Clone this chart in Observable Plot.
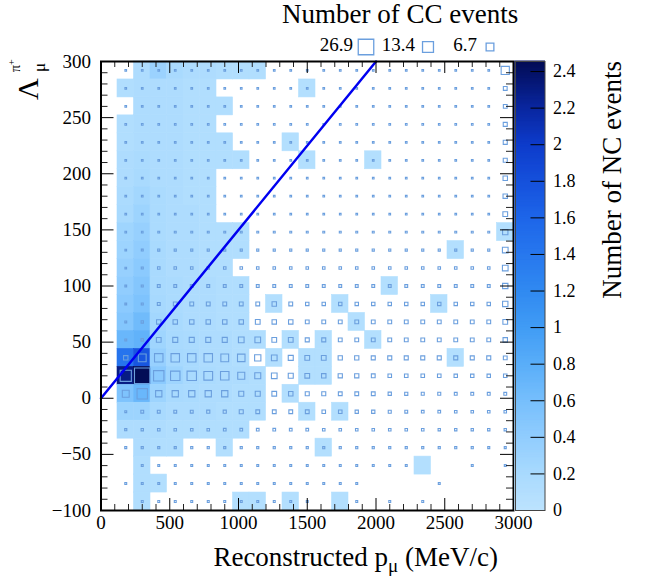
<!DOCTYPE html>
<html><head><meta charset="utf-8">
<script src="https://cdn.jsdelivr.net/npm/d3@7"></script>
<script src="https://cdn.jsdelivr.net/npm/@observablehq/plot@0.6"></script>
<style>
html,body{margin:0;padding:0;background:#fff;}
#wrap{position:relative;width:651px;height:583px;overflow:hidden;font-family:"Liberation Serif","Times New Roman",serif;}
#wrap svg{position:absolute;left:0;top:0;}
</style></head><body><div id="wrap"></div>
<script>
// ---- binning ----
const xBinWidth = 120, xStart = 0, nX = 25;
const yBinWidth = 16, yStart = -100, nY = 25;

// NC events per bin, rows from top (y 284..300) to bottom (y -100..-84), columns x 0..3000
const ncRows = [
  [0,0,.15,.32,.2,.15,.15,.12,.12,.12,0,0,0,0,0,0,0,0,0,0,0,0,0,0,0],
  [0,.12,.15,.15,.15,.12,.12,0,0,0,0,0,.1,0,0,0,0,0,0,0,0,0,0,0,0],
  [0,0,.15,.15,.15,.12,.12,.12,0,0,0,0,0,0,0,0,0,0,0,0,0,0,0,0,0],
  [0,.12,.15,.15,.15,.12,.12,0,0,0,0,0,0,0,0,0,0,0,0,0,0,0,0,0,0],
  [0,.12,.15,.15,.15,.12,.12,.12,0,0,0,.1,0,0,0,0,0,0,0,0,0,0,0,0,0],
  [0,.15,.18,.15,.15,.12,.12,.12,.12,0,0,0,.1,0,0,0,.1,0,0,0,0,0,0,0,0],
  [0,.15,.2,.15,.15,.12,.12,0,0,0,0,0,0,0,0,0,0,0,0,0,0,0,0,0,0],
  [0,.18,.25,.18,.15,.12,.12,0,0,0,0,0,0,0,0,0,0,0,0,0,0,0,0,0,0],
  [0,.2,.3,.18,.15,.15,.12,0,0,0,0,0,0,0,0,0,0,0,0,0,0,0,0,0,0],
  [0,.28,.35,.18,.15,.15,.12,.12,.12,0,0,0,0,0,0,0,0,0,0,0,0,0,0,0,.1],
  [0,.3,.4,.2,.15,.15,.12,.12,.12,0,0,0,0,0,0,0,0,0,0,0,0,.1,0,0,0],
  [0,.35,.45,.2,.15,.15,.12,.12,0,0,0,0,0,0,0,0,0,0,0,0,0,0,0,0,0],
  [0,.4,.5,.2,.18,.15,.15,.12,.12,0,0,0,0,0,0,0,0,.1,0,0,0,0,0,0,0],
  [0,.45,.55,.22,.18,.15,.15,.12,.12,0,.1,0,0,0,.1,0,0,0,0,0,.1,0,0,0,0],
  [0,.5,.65,.25,.2,.15,.15,.12,.12,0,0,0,0,0,0,.1,0,0,0,0,0,0,0,0,0],
  [0,.7,.75,.28,.2,.18,.15,.15,.12,.12,0,.1,0,.1,0,0,.1,0,0,0,0,0,0,0,0],
  [0,1.45,1.75,.35,.22,.2,.15,.15,.12,0,.1,0,.1,.1,0,0,0,0,0,0,0,.1,0,0,0],
  [0,2.3,2.45,.45,.28,.2,.18,.15,.15,.12,0,0,.1,.1,0,0,0,0,0,0,0,0,0,0,0],
  [0,.55,.7,.3,.2,.18,.15,.15,.12,.12,0,.1,0,0,0,0,0,0,0,0,0,0,0,0,0],
  [0,.3,.3,.2,.15,.15,.15,.12,.12,.12,0,0,.1,0,.1,0,0,0,0,0,0,0,0,0,0],
  [0,.15,.15,.15,.12,.12,.12,.12,.12,0,0,0,0,0,0,0,0,0,0,0,0,0,0,0,0],
  [0,0,.15,.12,.12,0,0,.1,0,0,0,0,0,.1,0,0,0,0,0,0,0,0,0,0,0],
  [0,0,.12,0,0,0,0,0,0,0,0,0,0,0,0,0,0,0,0,.1,0,0,0,0,0],
  [0,0,.12,.1,0,0,0,0,0,0,0,0,0,0,0,0,0,0,0,0,0,0,0,0,0],
  [0,0,.12,0,0,0,0,0,.1,.1,0,.1,0,0,.1,0,0,0,0,0,0,0,0,0,0]
];

// CC events per bin, same layout
const ccRows = [
  [0,.3,.3,.3,.3,.3,.3,.3,.3,.3,.3,.3,.3,.3,.3,.3,.3,.3,.3,.3,.3,.3,.3,.3,7.5],
  [0,.3,.3,.3,.3,.3,.3,.3,.3,.3,.3,.3,.3,.3,.3,.3,.3,.3,.3,.3,.3,.3,.3,.3,1.6],
  [0,.3,.3,.3,.3,.3,.3,.3,.3,.3,.3,.3,.3,.3,.3,.3,.3,.3,.3,.3,.3,.3,.3,.3,1.6],
  [0,.3,.3,.3,.3,.3,.3,.3,.3,.3,.3,.3,.3,.3,.3,.3,.3,.3,.3,.3,.3,.3,.3,.3,1.8],
  [0,.3,.3,.3,.3,.3,.3,.3,.3,.3,.3,.3,.3,.3,.3,.3,.3,.3,.3,.3,.3,.3,.3,.3,1.8],
  [0,.3,.3,.3,.3,.3,.3,.3,.3,.3,.3,.3,.3,.3,.3,.3,.3,.3,.3,.3,.3,.3,.3,.3,1.8],
  [0,.3,.3,.3,.3,.3,.3,.3,.3,.3,.3,.3,.3,.3,.3,.3,.3,.3,.3,.3,.3,.3,.3,.3,2.2],
  [0,.3,.3,.3,.3,.3,.3,.3,.3,.3,.3,.3,.3,.3,.3,.3,.3,.3,.3,.3,.3,.3,.3,.3,2.2],
  [0,.3,.3,.3,.3,.3,.3,.3,.3,.3,.3,.3,.3,.3,.3,.3,.3,.3,.3,.3,.3,.3,.3,.3,2.5],
  [0,.3,.3,.4,.4,.4,.4,.4,.4,.4,.4,.4,.4,.4,.4,.4,.4,.4,.4,.4,.4,.4,.4,.4,3.2],
  [0,.3,.4,.5,.5,.5,.5,.5,.5,.5,.5,.5,.5,.5,.5,.5,.5,.5,.5,.5,.5,.5,.5,.5,3.6],
  [0,.3,.45,.7,.7,.7,.7,.7,.7,.7,.7,.7,.7,.7,.7,.7,.7,.7,.7,.7,.7,.7,.7,.7,3.6],
  [0,.35,.45,.9,.9,.9,.9,.9,.9,.9,.9,.9,.9,.9,.9,.9,.9,.9,.9,.9,.9,.9,.9,.9,3.2],
  [0,.35,.45,.9,1.6,1.6,1.6,1.6,1.6,1.6,2.2,1.6,1.3,1.3,1.3,1.3,1.3,1.3,1.3,1.3,1.3,1.3,1.3,1.3,3.2],
  [0,.4,.6,2.2,2.2,2.2,2.2,2.2,2.2,2.5,2.2,2.2,1.6,1.6,1.6,1.6,1.6,1.6,1.6,1.6,1.6,1.6,1.6,1.6,2.5],
  [0,.4,.7,2.5,2.8,2.8,2.8,2.8,3.6,3.6,2.5,2.5,1.8,1.8,1.6,1.6,1.6,1.6,1.6,1.6,1.6,1.6,1.6,1.6,2.2],
  [0,2.2,6.8,8,8,8,8,6.8,6.3,4.4,3.6,2.8,2.5,2.5,2.0,2.0,1.8,1.8,1.8,1.8,1.8,1.8,1.8,1.8,1.6],
  [0,14,26.9,12,9.9,9.9,8.5,8,5.5,4.0,3.6,2.8,2.5,2.2,2.0,2.0,1.6,1.4,1.4,1.4,1.4,1.3,1.3,1.3,1.35],
  [0,5.3,12,4.4,4.4,4.4,4.4,4.4,2.8,2.8,2.5,2.2,1.8,1.8,1.6,1.6,1.6,1.2,1.1,1.0,1.0,.9,.9,.9,.9],
  [0,.4,.9,.9,.9,.9,1.1,1.1,1.8,1.6,1.6,1.6,1.6,1.4,1.4,1.2,1.2,1.0,.9,.8,.8,.7,.7,.7,.7],
  [0,.5,.6,.7,.7,.7,.7,.8,.8,.8,.8,.8,.8,.7,.7,.7,.7,.7,.7,.7,.6,.6,.6,.6,.6],
  [0,.45,.5,.5,.5,.5,.5,.5,.5,.5,.5,.5,.5,.5,.5,.5,.5,.5,.5,.5,.5,.5,.5,.45,.45],
  [0,0,.4,.4,.4,.4,.4,.4,.4,.4,.4,.4,.4,.4,.4,.4,.4,.4,.4,0,0,0,.4,0,.4],
  [0,.4,.4,.4,.4,.4,.4,.4,.4,.4,.4,.4,.4,.4,.4,.4,0,0,0,0,.4,0,0,0,0],
  [0,0,.4,.4,.4,.4,.4,.4,.4,.4,.4,.4,.4,0,0,.4,0,.4,0,.4,0,0,0,0,0]
];

const xTickLabels = [0, 500, 1000, 1500, 2000, 2500, 3000];
const yTickLabels = [-100, -50, 0, 50, 100, 150, 200, 250, 300];
const zTickLabels = [0, 0.2, 0.4, 0.6, 0.8, 1, 1.2, 1.4, 1.6, 1.8, 2, 2.2, 2.4];
const legendValues = [26.9, 13.4, 6.7];
const lineX = [0, 2000];
const lineY = [0, 300];

// palette stops
const paletteStops = [0, 0.2, 0.4, 0.6, 0.8, 1.0, 1.2, 1.4, 1.6, 1.8, 2.0, 2.2, 2.455];
const paletteColors = ["#bde3fe","#a9dafe","#91cdfe","#77bffc","#5aaef9","#419cf5","#318af1","#2878ee","#1e66e9","#1651dc","#0e3ccb","#0a27a0","#030c55"];
const zMax = 2.455;
const ccMax = 26.9;

// ---- build cells ----
const ncCells = [], ccCells = [];
ncRows.forEach((row, r) => {
  const j = nY - 1 - r;
  row.forEach((v, i) => {
    if (v > 0) ncCells.push({x1: xStart + i * xBinWidth, x2: xStart + (i + 1) * xBinWidth,
      y1: yStart + j * yBinWidth, y2: yStart + (j + 1) * yBinWidth, v});
  });
});
ccRows.forEach((row, r) => {
  const j = nY - 1 - r;
  row.forEach((v, i) => {
    if (v > 0) ccCells.push({x: xStart + (i + 0.5) * xBinWidth, y: yStart + (j + 0.5) * yBinWidth, v});
  });
});

const W = 651, H = 583;
const mTop = 61, mBottom = 73, mLeft = 100.5, mRight = 138;
const frameH = H - mTop - mBottom, frameW = W - mLeft - mRight;
const boxMaxSide = 15.5;
const rScale = {type: "sqrt", domain: [0, ccMax], range: [0, boxMaxSide / Math.sqrt(Math.PI)]};
const colorScale = {type: "linear", domain: paletteStops, range: paletteColors, clamp: true};
const fmt = d => d < 0 ? "\u2212" + Math.abs(d) : String(d);
const font = '"Liberation Serif","Times New Roman",serif';
const boxColor = "#6b9fde";

const xMinor = d3.range(0, 3001, 100).filter(d => d % 500 !== 0);
const yMinor = d3.range(-100, 301, 10).filter(d => d % 50 !== 0);

const main = Plot.plot({
  width: W, height: H,
  marginTop: mTop, marginBottom: mBottom, marginLeft: mLeft, marginRight: mRight,
  x: {domain: [0, 3000], axis: null},
  y: {domain: [-100, 300], axis: null},
  color: colorScale,
  r: rScale,
  style: {fontFamily: font, fontSize: "19px", background: "transparent", color: "black"},
  marks: [
    Plot.rect(ncCells, {x1: "x1", x2: "x2", y1: "y1", y2: "y2", fill: "v", stroke: "v", strokeWidth: 0.6}),
    Plot.dot(ccCells, {x: "x", y: "y", r: "v", symbol: "square", stroke: boxColor, strokeWidth: 1.1, fill: "none"}),
    Plot.line(lineX.map((x, k) => ({x, y: lineY[k]})), {x: "x", y: "y", stroke: "#0000f0", strokeWidth: 2.5}),
    // ticks bottom/top
    Plot.ruleX(xTickLabels, {x: d => d, insetTop: frameH - 12, stroke: "black"}),
    Plot.ruleX(xMinor, {x: d => d, insetTop: frameH - 6, stroke: "#222"}),
    Plot.ruleX(xTickLabels, {x: d => d, insetBottom: frameH - 12, stroke: "black"}),
    Plot.ruleX(xMinor, {x: d => d, insetBottom: frameH - 6, stroke: "#222"}),
    // ticks left/right
    Plot.ruleY(yTickLabels, {y: d => d, insetRight: frameW - 13, stroke: "black"}),
    Plot.ruleY(yMinor, {y: d => d, insetRight: frameW - 7, stroke: "#222"}),
    Plot.ruleY(yTickLabels, {y: d => d, insetLeft: frameW - 13, stroke: "black"}),
    Plot.ruleY(yMinor, {y: d => d, insetLeft: frameW - 7, stroke: "#222"}),
    Plot.frame({stroke: "black", strokeWidth: 2}),
    Plot.text(xTickLabels, {x: d => d, frameAnchor: "bottom", dy: 18, text: fmt, fontSize: 19}),
    Plot.text(yTickLabels, {y: d => d, frameAnchor: "left", dx: -10, textAnchor: "end", text: fmt, fontSize: 19})
  ]
});

// color bar overlay
const barBands = d3.range(0, zMax, 0.005);
const bar = Plot.plot({
  width: W, height: H,
  marginTop: mTop, marginBottom: mBottom, marginLeft: 515, marginRight: W - 544.5,
  x: {domain: [0, 1], axis: null},
  y: {domain: [0, zMax], axis: null},
  color: colorScale,
  style: {fontFamily: font, fontSize: "19px", background: "transparent", color: "black"},
  marks: [
    Plot.rect(barBands, {x1: 0, x2: 1, y1: d => d, y2: d => Math.min(zMax, d + 0.005), fill: d => d + 0.0025, stroke: d => d + 0.0025, strokeWidth: 1}),
    Plot.ruleY(zTickLabels, {y: d => d, insetLeft: 29.5 - 14, stroke: "black"}),
    Plot.frame({stroke: "#444", strokeWidth: 1}),
    Plot.text(zTickLabels, {y: d => d, frameAnchor: "right", dx: 8, textAnchor: "start", text: d => String(d), fontSize: 18})
  ]
});

// legend overlay
const legend = Plot.plot({
  width: W, height: H, margin: 0,
  x: {domain: [0, 2], range: [365.5, 489.5], axis: null},
  y: {domain: [0, 1], range: [0, 93], axis: null},
  r: rScale,
  style: {fontFamily: font, fontSize: "19px", background: "transparent", color: "black"},
  marks: [
    Plot.dot(legendValues, {x: (d, i) => i, y: 0.5, r: d => d, symbol: "square", stroke: boxColor, strokeWidth: 1.3, fill: "none"}),
    Plot.text(legendValues, {x: (d, i) => i, y: 0.5, dx: -13, dy: -2.5, textAnchor: "end", text: d => d.toFixed(1), fontSize: 19})
  ]
});

const titles = `<svg width="${W}" height="${H}" xmlns="http://www.w3.org/2000/svg" style="font-family:${font.replace(/"/g, "'")}">
  <text x="282" y="23" font-size="27">Number of CC events</text>
  <text x="498" y="566" text-anchor="end" font-size="27">Reconstructed p<tspan font-size="19" dy="6">μ</tspan><tspan dy="-6"> (MeV/c)</tspan></text>
  <text transform="translate(621,61) rotate(-90)" text-anchor="end" font-size="27">Number of NC events</text>
  <text transform="translate(38,100) rotate(-90)" font-size="30">Λ</text>
  <text transform="translate(20,72) rotate(-90)" font-size="14">π<tspan font-size="10" dy="-5">+</tspan></text>
  <text transform="translate(45,72) rotate(-90)" font-size="17">μ</text>
</svg>`;

const wrap = document.getElementById("wrap");
wrap.appendChild(main);
wrap.appendChild(bar);
wrap.appendChild(legend);
wrap.insertAdjacentHTML("beforeend", titles);
</script>
</body></html>
